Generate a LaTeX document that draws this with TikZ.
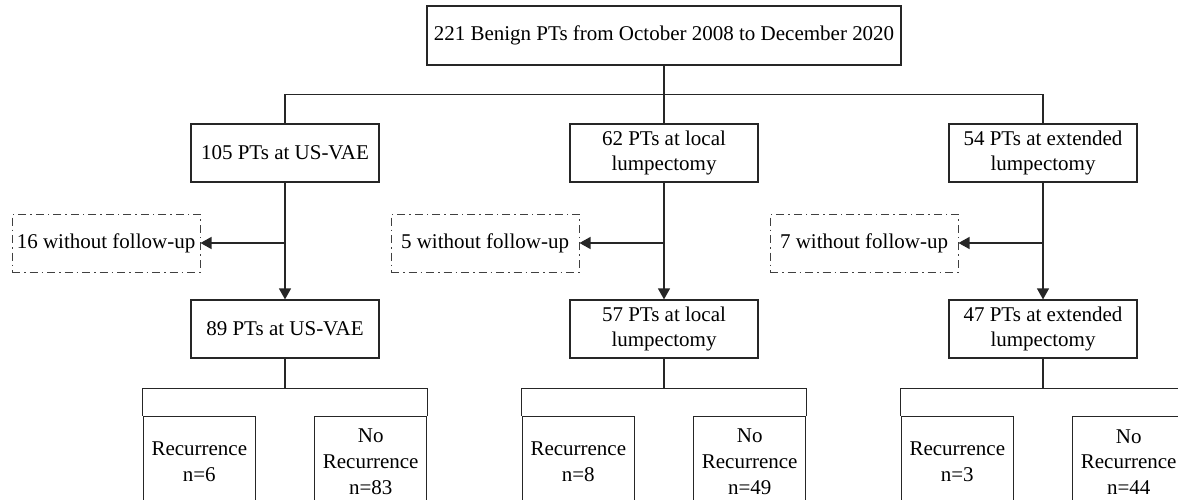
\documentclass[tikz,border=0pt]{standalone}
\usepackage{fontspec}
\setmainfont{Liberation Serif}
\usetikzlibrary{arrows.meta}
\begin{document}
\begin{tikzpicture}[x=1pt,y=-1pt,
  ln/.style={draw=black!85, line width=1.2pt},
  txt/.style={font=\fontsize{21}{25.8}\selectfont},
  box/.style={ln, txt, rectangle, minimum width=188pt, minimum height=58pt, inner sep=0pt, align=center},
  dbox/.style={box, draw=black!75, line width=1pt, dash pattern=on 8pt off 4pt on 1.5pt off 4pt},
  ibox/.style={ln, rectangle, minimum width=112pt, minimum height=110pt, inner sep=0pt, anchor=north},
  lbl/.style={txt, align=center, inner sep=0pt},
  arr/.style={ln, -{Triangle[length=11pt,width=12pt]}}
]
\useasboundingbox (0,0) rectangle (1178,500);
\clip (0,0) rectangle (1178,500);

% top
\node[box, minimum width=474pt, minimum height=59pt] (top) at (664,35.5) {221 Benign PTs from October 2008 to December 2020};

% row 2
\node[box] (A) at (285,153) {105 PTs at US-VAE};
\node[box] (B) at (664,153) {62 PTs at local\\lumpectomy};
\node[box] (C) at (1043,153) {54 PTs at extended\\lumpectomy};

% dashed exclusions
\node[dbox] (D1) at (106,243) {16 without follow-up};
\node[dbox] (D2) at (485,243) {5 without follow-up};
\node[dbox] (D3) at (864,243) {7 without follow-up};

% row 3
\node[box] (A2) at (285,329) {89 PTs at US-VAE};
\node[box] (B2) at (664,329) {57 PTs at local\\lumpectomy};
\node[box] (C2) at (1043,329) {47 PTs at extended\\lumpectomy};

% outcome boxes
\node[ibox] (ra) at (199.3,415.7) {};
\node[ibox] (na) at (370.7,415.7) {};
\node[ibox] (rb) at (578.3,415.7) {};
\node[ibox] (nb) at (749.7,415.7) {};
\node[ibox] (rc) at (957.3,415.7) {};
\node[ibox] (nc) at (1128.7,415.7) {};

\node[lbl] (rat) at (ra.north |- 0,462) {Recurrence\\n=6};
\node[lbl] (nat) at (na.north |- 0,462) {No\\Recurrence\\n=83};
\node[lbl] (rbt) at (rb.north |- 0,462) {Recurrence\\n=8};
\node[lbl] (nbt) at (nb.north |- 0,462) {No\\Recurrence\\n=49};
\node[lbl] (rct) at (rc.north |- 0,462) {Recurrence\\n=3};
\node[lbl] (nct) at (nc.north |- 0,462) {No\\Recurrence\\n=44};

% connectors top
\coordinate (bar) at (664,94.7);
\draw[ln] (top.south) -- (B.north);
\draw[ln] (A.north) -- (A.north |- bar) -- (C.north |- bar) -- (C.north);

% main arrows
\draw[arr] (A.south) -- (A2.north);
\draw[arr] (B.south) -- (B2.north);
\draw[arr] (C.south) -- (C2.north);
\draw[arr] (A.south |- D1.east) -- (D1.east);
\draw[arr] (B.south |- D2.east) -- (D2.east);
\draw[arr] (C.south |- D3.east) -- (D3.east);

% brackets
\coordinate (ba) at (285,388.3);
\coordinate (bb) at (664,388.3);
\coordinate (bc) at (1043,388.3);
\draw[ln] (A2.south) -- (ba);
\draw[ln] (B2.south) -- (bb);
\draw[ln] (C2.south) -- (bc);
\draw[ln] (ra.north west) -- (ra.north west |- ba) -- (na.north east |- ba) -- (na.north east);
\draw[ln] (rb.north west) -- (rb.north west |- bb) -- (nb.north east |- bb) -- (nb.north east);
\draw[ln] (rc.north west) -- (rc.north west |- bc) -- (nc.north east |- bc) -- (nc.north east);
\end{tikzpicture}
\end{document}
